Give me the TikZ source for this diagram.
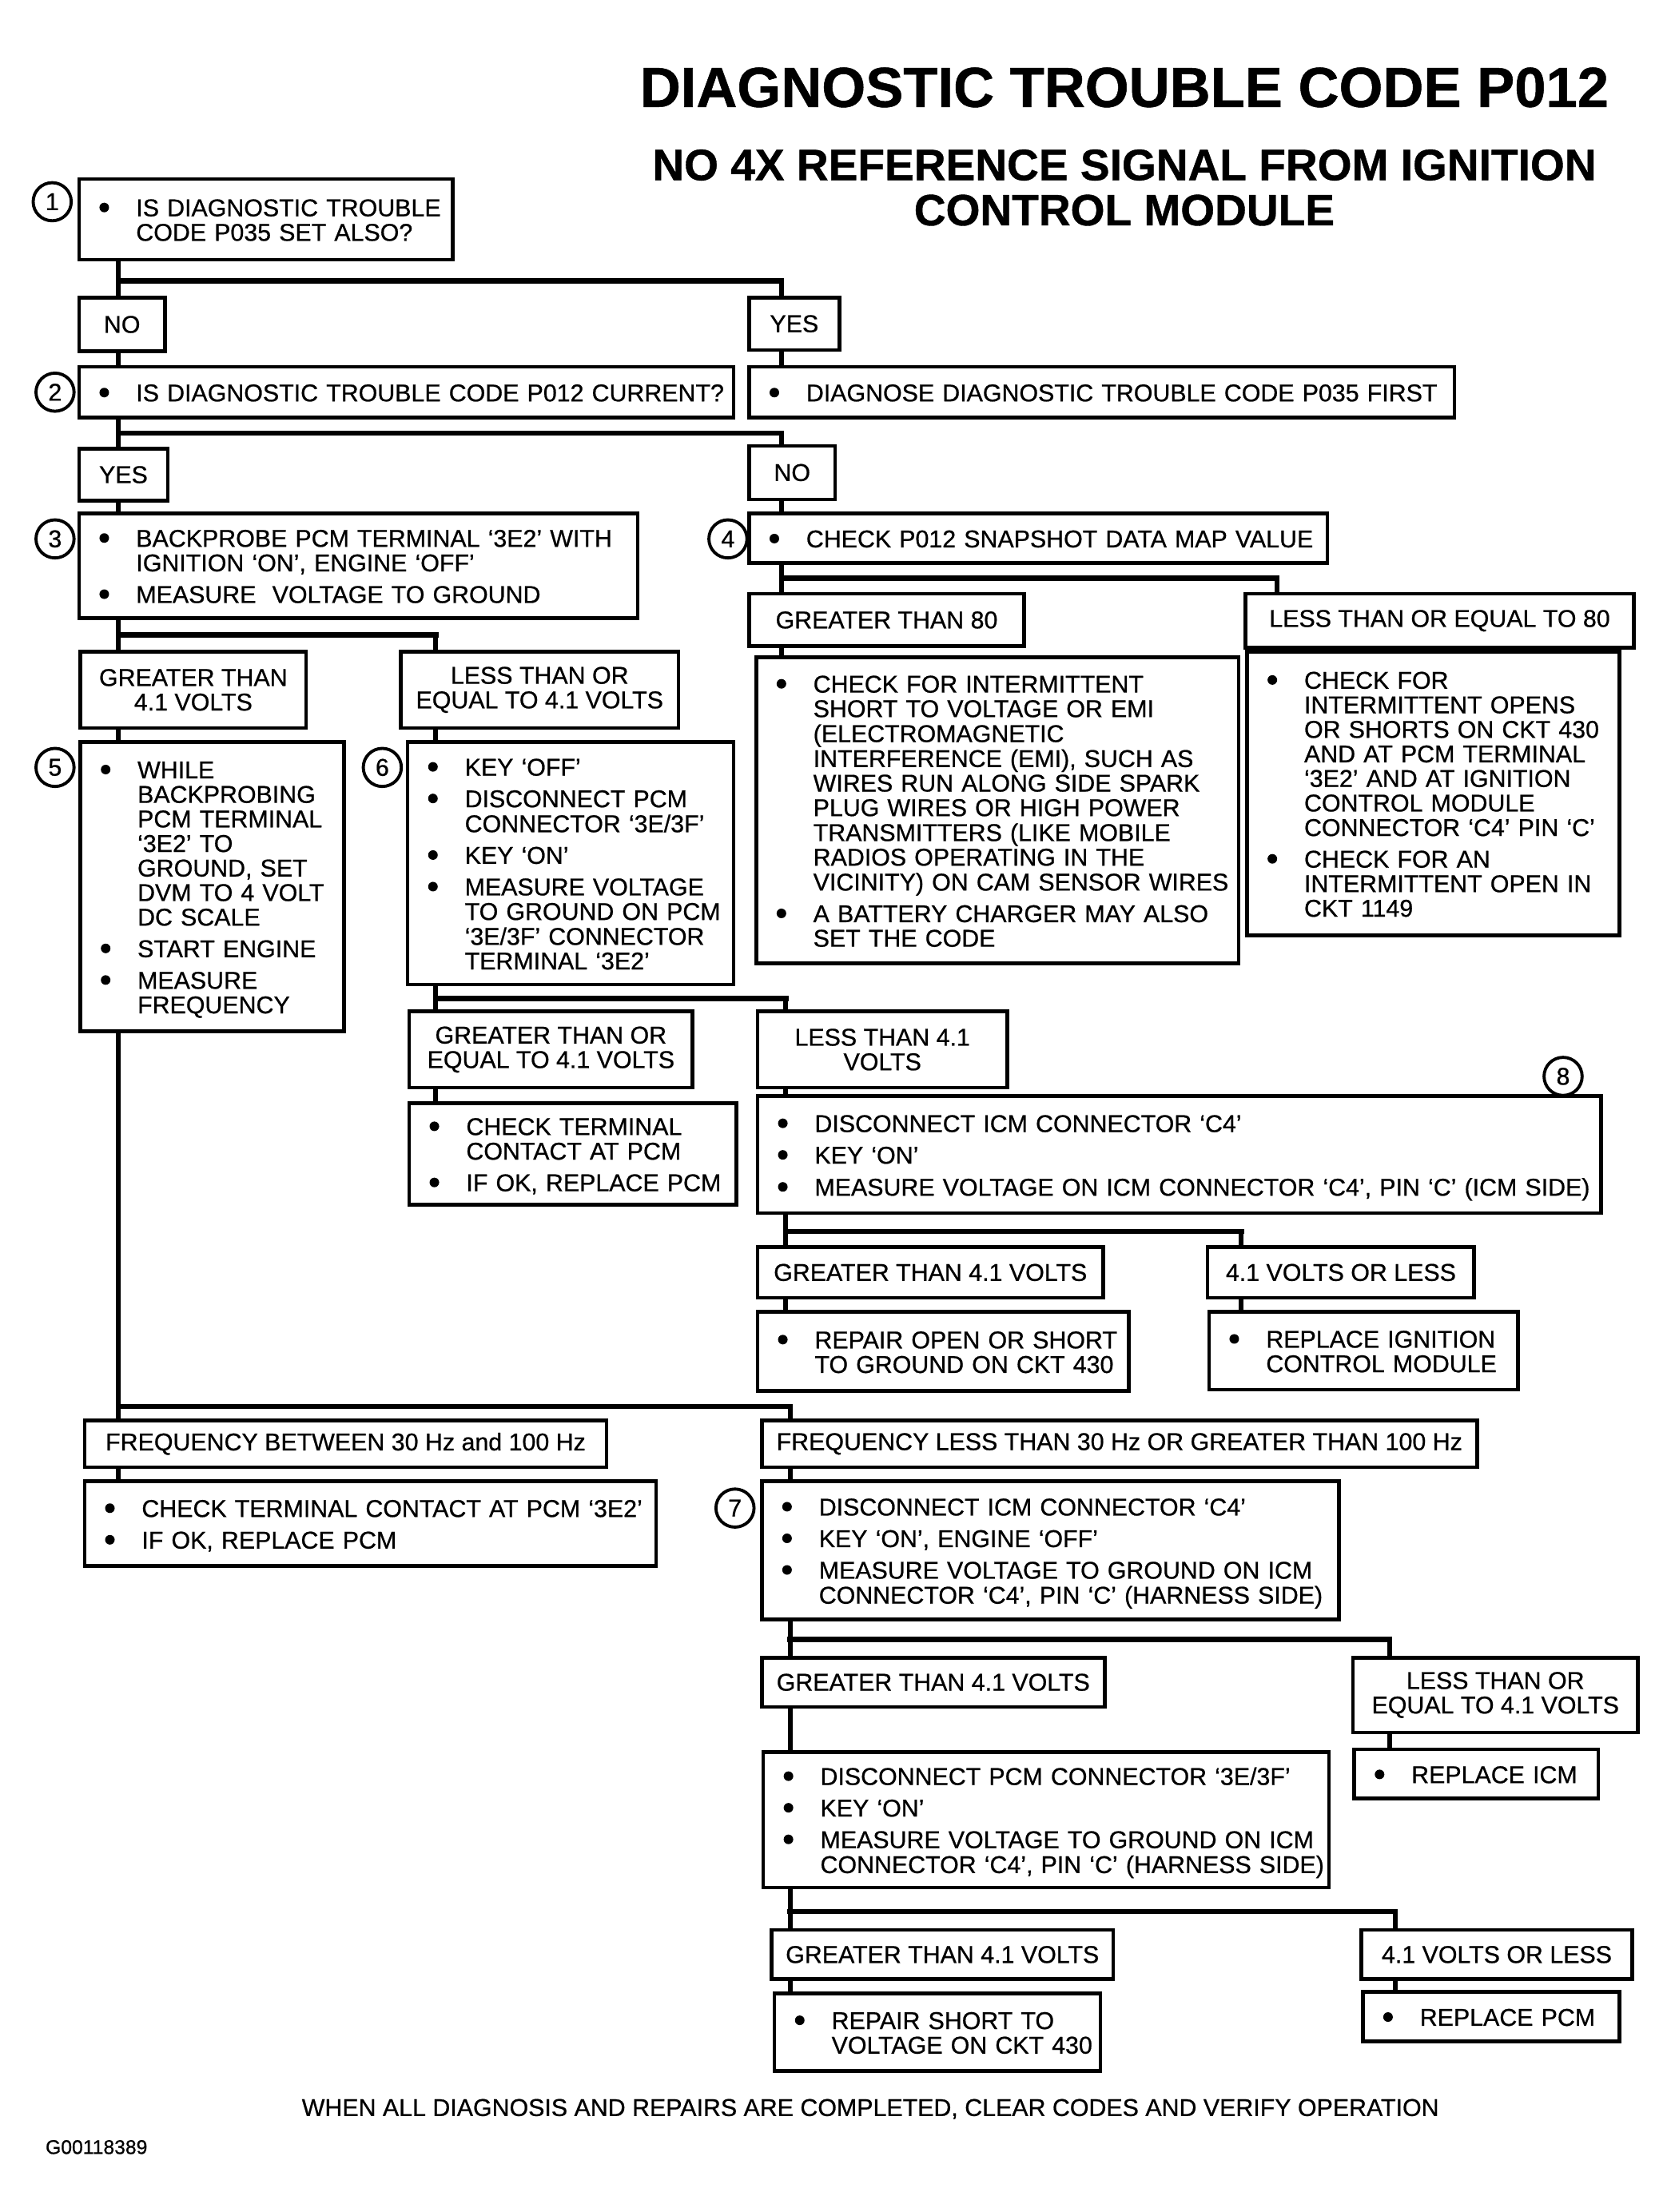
\documentclass[tikz,border=0pt]{standalone}
\usepackage{fontspec}
\setmainfont{Liberation Sans}[FakeBold=0.7]
\newcommand{\bul}{\tikz[baseline=-6.2pt]\fill (0,0) circle (3.4pt);}
\newcommand{\blist}[1]{\begin{tabular}{@{}p{26pt}@{}l@{}}\rule{0pt}{18.2pt}#1\end{tabular}}

\begin{document}
\begin{tikzpicture}[x=1pt, y=-1pt,
    every node/.style={font=\fontsize{17.2}{17.4}\selectfont, outer sep=0pt},
    boxline/.style={draw, line width=2.6pt},
    ans/.style={boxline, anchor=north west, align=center, inner sep=0pt},
    act/.style={boxline, anchor=north west, align=left, inner xsep=14.5pt, inner ysep=0pt, text width=#1},
    stepno/.style={circle, draw, line width=2.2pt, minimum size=27pt, inner sep=0pt},
    link/.style={line width=3.4pt},
    bus/.style={line width=3.8pt, line cap=rect}
  ]
  \useasboundingbox (0,0) rectangle (1184,1568);

  \coordinate (cA) at (84,0);
  \coordinate (k1) at (554,199);
  \coordinate (k2) at (554,307);
  \coordinate (k3) at (309,450);
  \coordinate (k4) at (905,410);
  \coordinate (k6) at (557,708);
  \coordinate (k8) at (880,873);
  \coordinate (k5) at (560,997);
  \coordinate (k7) at (985,1162);
  \coordinate (k9) at (989,1355);

  \node[font=\bfseries\fontsize{40}{40}\selectfont] (title) at (797,62) {DIAGNOSTIC TROUBLE CODE P012};
  \node[font=\bfseries\fontsize{31.2}{32}\selectfont, align=center] (subtitle) at (797,133)
    {NO 4X REFERENCE SIGNAL FROM IGNITION\\CONTROL MODULE};

  \node[stepno] (n1) at (37,143) {1};
  \node[act=236pt, minimum height=57pt] (q1) at (56,127)
    {\blist{\bul & IS DIAGNOSTIC TROUBLE\\ & CODE P035 SET ALSO?}};
  \node[ans, minimum width=61pt, minimum height=38pt] (no1) at (56,211) {NO};
  \node[ans, minimum width=64pt, minimum height=37pt] (yes1) at (531,211) {YES};

  \node[stepno] (n2) at (39,278) {2};
  \node[act=435pt, minimum height=36pt] (q2) at (56,260)
    {\blist{\bul & IS DIAGNOSTIC TROUBLE CODE P012 CURRENT?}};
  \node[act=471pt, minimum height=36pt] (dg) at (531,260)
    {\blist{\bul & DIAGNOSE DIAGNOSTIC TROUBLE CODE P035 FIRST}};
  \node[ans, minimum width=63pt, minimum height=37pt] (yes2) at (56,318) {YES};
  \node[ans, minimum width=61pt, minimum height=38pt] (no2) at (531,316) {NO};

  \node[stepno] (n3) at (39,382) {3};
  \node[act=367pt, minimum height=74pt] (q3) at (56,364)
    {\blist{\bul & BACKPROBE PCM TERMINAL `3E2' WITH\\ & IGNITION `ON', ENGINE `OFF'\\[5pt]
            \bul & MEASURE\ \ VOLTAGE TO GROUND}};
  \node[stepno] (n4) at (516,382) {4};
  \node[act=381pt, minimum height=35pt] (q4) at (531,364)
    {\blist{\bul & CHECK P012 SNAPSHOT DATA MAP VALUE}};

  \node[ans, minimum width=160pt, minimum height=54pt] (gt41) at (57,462) {GREATER THAN\\4.1 VOLTS};
  \node[ans, minimum width=197pt, minimum height=54pt] (le41) at (284,462) {LESS THAN OR\\EQUAL TO 4.1 VOLTS};
  \node[ans, minimum width=195pt, minimum height=37pt] (gt80) at (531,421) {GREATER THAN 80};
  \node[ans, minimum width=275pt, minimum height=38pt] (le80) at (883,421) {LESS THAN OR EQUAL TO 80};

  \node[stepno] (n5) at (39,544) {5};
  \node[act=158pt, minimum height=205pt] (q5) at (57,526)
    {\blist{\bul & WHILE\\ & BACKPROBING\\ & PCM TERMINAL\\ & `3E2' TO\\ & GROUND, SET\\ & DVM TO 4 VOLT\\ & DC SCALE\\[5pt]
            \bul & START ENGINE\\[5pt]
            \bul & MEASURE\\ & FREQUENCY}};
  \node[stepno] (n6) at (271,544) {6};
  \node[act=202pt, minimum height=172pt] (q6) at (289,526)
    {\blist{\bul & KEY `OFF'\\[5pt]
            \bul & DISCONNECT PCM\\ & CONNECTOR `3E/3F'\\[5pt]
            \bul & KEY `ON'\\[5pt]
            \bul & MEASURE VOLTAGE\\ & TO GROUND ON PCM\\ & `3E/3F' CONNECTOR\\ & TERMINAL `3E2'}};
  \node[act=313pt, minimum height=217pt] (r80a) at (536,466)
    {\blist{\bul & CHECK FOR INTERMITTENT\\ & SHORT TO VOLTAGE OR EMI\\ & (ELECTROMAGNETIC\\ & INTERFERENCE (EMI), SUCH AS\\
              & WIRES RUN ALONG SIDE SPARK\\ & PLUG WIRES OR HIGH POWER\\ & TRANSMITTERS (LIKE MOBILE\\
              & RADIOS OPERATING IN THE\\ & VICINITY) ON CAM SENSOR WIRES\\[5pt]
            \bul & A BATTERY CHARGER MAY ALSO\\ & SET THE CODE}};
  \node[act=235pt, minimum height=201pt] (r80b) at (884,462)
    {\blist{\bul & CHECK FOR\\ & INTERMITTENT OPENS\\ & OR SHORTS ON CKT 430\\ & AND AT PCM TERMINAL\\
              & `3E2' AND AT IGNITION\\ & CONTROL MODULE\\ & CONNECTOR `C4' PIN `C'\\[5pt]
            \bul & CHECK FOR AN\\ & INTERMITTENT OPEN IN\\ & CKT 1149}};

  \node[ans, minimum width=201pt, minimum height=54pt] (ge41b) at (290,717) {GREATER THAN OR\\EQUAL TO 4.1 VOLTS};
  \node[ans, minimum width=177pt, minimum height=54pt] (lt41b) at (537,717) {LESS THAN 4.1\\VOLTS};
  \node[act=203pt, minimum height=72pt] (a6) at (290,782)
    {\blist{\bul & CHECK TERMINAL\\ & CONTACT AT PCM\\[5pt]
            \bul & IF OK, REPLACE PCM}};
  \node[stepno] (n8) at (1108,763) {8};
  \node[act=569pt, minimum height=83pt] (q8) at (537,777)
    {\blist{\bul & DISCONNECT ICM CONNECTOR `C4'\\[5pt]
            \bul & KEY `ON'\\[5pt]
            \bul & MEASURE VOLTAGE ON ICM CONNECTOR `C4', PIN `C' (ICM SIDE)}};
  \node[ans, minimum width=245pt, minimum height=36pt] (gt8) at (537,884) {GREATER THAN 4.1 VOLTS};
  \node[ans, minimum width=189pt, minimum height=36pt] (le8) at (856,884) {4.1 VOLTS OR LESS};
  \node[act=234pt, minimum height=56pt] (a8) at (537,930)
    {\blist{\bul & REPAIR OPEN OR SHORT\\ & TO GROUND ON CKT 430}};
  \node[act=190pt, minimum height=55pt] (b8) at (857,930)
    {\blist{\bul & REPLACE IGNITION\\ & CONTROL MODULE}};

  \node[ans, minimum width=370pt, minimum height=33pt] (fb) at (60,1007) {FREQUENCY BETWEEN 30 Hz and 100 Hz};
  \node[ans, minimum width=507pt, minimum height=33pt] (fl) at (540,1007) {FREQUENCY LESS THAN 30 Hz OR GREATER THAN 100 Hz};
  \node[act=376pt, minimum height=60pt] (a5) at (60,1050)
    {\blist{\bul & CHECK TERMINAL CONTACT AT PCM `3E2'\\[5pt]
            \bul & IF OK, REPLACE PCM}};
  \node[stepno] (n7) at (521,1069) {7};
  \node[act=380pt, minimum height=98pt] (q7) at (540,1050)
    {\blist{\bul & DISCONNECT ICM CONNECTOR `C4'\\[5pt]
            \bul & KEY `ON', ENGINE `OFF'\\[5pt]
            \bul & MEASURE VOLTAGE TO GROUND ON ICM\\ & CONNECTOR `C4', PIN `C' (HARNESS SIDE)}};

  \node[ans, minimum width=243pt, minimum height=35pt] (gt7) at (540,1175) {GREATER THAN 4.1 VOLTS};
  \node[ans, minimum width=202pt, minimum height=53pt] (le7) at (959,1175) {LESS THAN OR\\EQUAL TO 4.1 VOLTS};
  \node[act=144pt, minimum height=35pt] (b7) at (960,1240)
    {\blist{\bul & REPLACE ICM}};
  \node[act=372pt, minimum height=96pt] (q9) at (541,1242)
    {\blist{\bul & DISCONNECT PCM CONNECTOR `3E/3F'\\[5pt]
            \bul & KEY `ON'\\[5pt]
            \bul & MEASURE VOLTAGE TO GROUND ON ICM\\ & CONNECTOR `C4', PIN `C' (HARNESS SIDE)}};
  \node[ans, minimum width=242pt, minimum height=35pt] (gt9) at (547,1368) {GREATER THAN 4.1 VOLTS};
  \node[ans, minimum width=192pt, minimum height=35pt] (le9) at (965,1368) {4.1 VOLTS OR LESS};
  \node[act=202pt, minimum height=55pt] (a9) at (549,1413)
    {\blist{\bul & REPAIR SHORT TO\\ & VOLTAGE ON CKT 430}};
  \node[act=153pt, minimum height=35pt] (b9) at (966,1412)
    {\blist{\bul & REPLACE PCM}};

  \node (footer) at (617,1495) {WHEN ALL DIAGNOSIS AND REPAIRS ARE COMPLETED, CLEAR CODES AND VERIFY OPERATION};
  \node[anchor=west, font=\fontsize{14}{14}\selectfont] (figid) at (29,1522) {G00118389};

  \draw[link] (q1.south -| cA) -- (no1.north -| cA);
  \draw[bus] (k1 -| cA) -- (k1);
  \draw[link] (k1) -- (yes1.north -| k1);
  \draw[link] (yes1.south -| k1) -- (dg.north -| k1);
  \draw[link] (no1.south -| cA) -- (q2.north -| cA);
  \draw[link] (q2.south -| cA) -- (yes2.north -| cA);
  \draw[bus] (k2 -| cA) -- (k2);
  \draw[link] (k2) -- (no2.north -| k2);
  \draw[link] (yes2.south -| cA) -- (q3.north -| cA);
  \draw[link] (no2.south -| k2) -- (q4.north -| k2);

  \draw[link] (q3.south -| cA) -- (gt41.north -| cA);
  \draw[bus] (k3 -| cA) -- (k3);
  \draw[link] (k3) -- (le41.north -| k3);
  \draw[link] (q4.south -| k2) -- (gt80.north -| k2);
  \draw[bus] (k4 -| k2) -- (k4);
  \draw[link] (k4) -- (le80.north -| k4);
  \draw[link] (gt80.south -| k2) -- (r80a.north -| k2);
  \draw[link] (le80.south -| k4) -- (r80b.north -| k4);
  \draw[link] (gt41.south -| cA) -- (q5.north -| cA);
  \draw[link] (le41.south -| k3) -- (q6.north -| k3);

  \draw[link] (q6.south -| k3) -- (ge41b.north -| k3);
  \draw[bus] (k6 -| k3) -- (k6);
  \draw[link] (k6) -- (lt41b.north -| k6);
  \draw[link] (ge41b.south -| k3) -- (a6.north -| k3);
  \draw[link] (lt41b.south -| k6) -- (q8.north -| k6);
  \draw[link] (q8.south -| k6) -- (gt8.north -| k6);
  \draw[bus] (k8 -| k6) -- (k8);
  \draw[link] (k8) -- (le8.north -| k8);
  \draw[link] (gt8.south -| k6) -- (a8.north -| k6);
  \draw[link] (le8.south -| k8) -- (b8.north -| k8);

  \draw[link] (q5.south -| cA) -- (fb.north -| cA);
  \draw[bus] (k5 -| cA) -- (k5);
  \draw[link] (k5) -- (fl.north -| k5);
  \draw[link] (fb.south -| cA) -- (a5.north -| cA);
  \draw[link] (fl.south -| k5) -- (q7.north -| k5);
  \draw[link] (q7.south -| k5) -- (gt7.north -| k5);
  \draw[bus] (k7 -| k5) -- (k7);
  \draw[link] (k7) -- (le7.north -| k7);
  \draw[link] (gt7.south -| k5) -- (q9.north -| k5);
  \draw[link] (le7.south -| k7) -- (b7.north -| k7);
  \draw[link] (q9.south -| k5) -- (gt9.north -| k5);
  \draw[bus] (k9 -| k5) -- (k9);
  \draw[link] (k9) -- (le9.north -| k9);
  \draw[link] (gt9.south -| k5) -- (a9.north -| k5);
  \draw[link] (le9.south -| k9) -- (b9.north -| k9);
\end{tikzpicture}
\end{document}
